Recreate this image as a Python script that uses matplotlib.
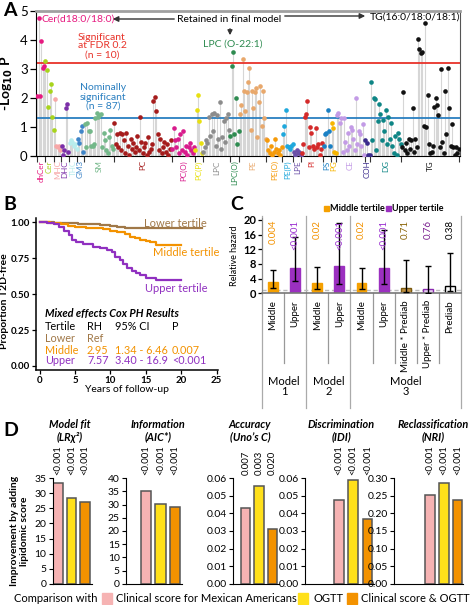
import matplotlib
matplotlib.use('Agg')
import matplotlib.pyplot as plt
import numpy as np
import matplotlib.transforms as mtransforms
from matplotlib.patches import Rectangle

plt.rcParams['font.family'] = ['Lato', 'DejaVu Sans']

# ---------------- DATA ----------------
# Panel A: lipid classes, colours and -log10 P values (in plotting order)
a_classes = ['dhCer', 'Cer', 'MHC', 'DHC', 'THC', 'GM3', 'SM', 'PC', 'PC(O)', 'PC(P)', 'LPC',
             'LPC(O)', 'PE', 'PE(O)', 'PE(P)', 'LPE', 'PI', 'PS', 'PG', 'CE', 'COH', 'DG', 'TG']
a_colors = ['#e6197f', '#a8d41c', '#f7a8a8', '#7b2fa8', '#b8ecec', '#3f85c8', '#74b88a', '#a51c1c',
            '#d81b8c', '#e8e010', '#8c8c8c', '#2e8b50', '#e8a86c', '#f59a0a', '#1fa8dc', '#6b50a8',
            '#d42a2a', '#1a80c4', '#f7b500', '#c39be6', '#3a2b8c', '#0e8585', '#111111']
a_dhcer = [2.07, 4.75, 2.07, 3.95, 3.05, 3.10]
a_cer = [3.28, 2.95, 1.70, 2.25, 2.50, 1.35, 0.90]
a_mhc = [1.95, 0.35, 0.30, 0.35, 0.20]
a_dhc = [0.35, 0.05, 0.20, 1.65, 1.78, 0.15]
a_thc = [0.45, 0.55, 0.50, 0.35, 0.40, 0.25]
a_gm3 = [0.60, 0.45, 0.85, 1.05, 0.15]
a_sm = [1.10, 0.30, 1.15, 0.85, 0.85, 0.35, 0.35, 0.40, 1.30, 1.50, 1.35, 1.40, 1.45, 0.30,
        0.80, 0.55, 0.20, 0.10, 0.65, 0.90, 0.35, 0.25]
a_pc = [1.15, 0.40, 0.75, 0.30, 0.80, 0.20, 0.75, 0.55, 0.10, 0.80, 0.35, 0.05, 0.60, 0.25,
        0.45, 0.15, 0.30, 0.70, 0.20, 1.35, 0.50, 0.10, 0.30, 0.45, 0.05, 0.65, 0.15, 0.25,
        0.40, 1.90, 2.05, 1.55, 0.75, 0.20, 0.60, 0.10, 0.30, 0.50, 0.15, 0.40, 0.05, 0.25, 0.55]
a_pco = [0.25, 0.95, 0.55, 0.30, 0.60, 0.10, 0.75, 0.20, 0.85, 0.15, 0.35, 0.05, 0.30, 0.45,
         0.20, 0.10, 0.30]
a_pcp = [0.20, 1.60, 2.10, 1.20, 0.45, 0.10]
a_lpc = [0.15, 0.30, 0.55, 0.45, 1.35, 0.70, 1.45, 0.85, 1.50, 0.35, 1.40, 0.60, 1.85, 0.25,
         0.65, 1.20, 0.50, 1.30, 1.45, 0.90]
a_lpco = [0.70, 3.10, 3.60, 0.75, 2.00, 0.40, 0.85]
a_pe = [1.45, 1.75, 3.35, 2.25, 1.55, 2.20, 2.55, 3.05, 0.90, 2.25, 1.65, 2.20, 2.35, 0.65,
        1.85, 2.40, 1.05, 2.25, 1.30, 0.60]
a_peo = [0.55, 0.20, 0.10, 0.35, 0.05, 0.15, 0.60, 0.25, 0.10, 0.20, 0.05, 0.30]
a_pep = [0.75, 1.05, 1.60, 0.35, 0.30, 0.25, 0.35, 0.40]
a_lpe = [0.15, 0.05, 0.20, 0.10, 0.15, 0.05]
a_pi = [0.10, 0.40, 1.35, 1.45, 1.90, 0.30, 1.00, 0.80, 0.35, 0.25, 0.95, 0.30, 0.40, 0.05,
        0.25, 0.45]
a_ps = [0.35, 0.75, 0.80, 1.60, 0.85, 0.35]
a_pg = [1.15, 0.95, 0.15, 0.10]
a_ce = [1.40, 1.50, 1.15, 1.30, 0.15, 1.30, 0.50, 0.20, 0.80, 0.35, 1.00, 0.90, 0.60, 0.20,
        2.00, 0.40, 0.85, 0.75, 0.35, 1.10, 0.05]
a_coh = [0.55, 0.45, 0.02, 0.03]
a_dg = [2.55, 0.55, 2.00, 1.95, 0.20, 1.20, 1.80, 1.45, 0.55, 1.25, 0.85, 1.60, 0.40, 1.35,
        0.60, 1.15, 0.35, 0.10, 0.70, 0.05, 0.80, 0.60, 0.40]
a_tg = [0.30, 2.20, 0.20, 0.45, 0.10, 0.60, 0.25, 0.55, 1.65, 0.15, 0.60, 0.30, 4.05, 3.70,
        3.55, 3.60, 1.05, 4.60, 1.00, 2.10, 0.40, 0.10, 0.15, 0.35, 1.70, 2.00, 1.75, 1.40,
        0.30, 3.00, 0.50, 0.10, 2.25, 0.75, 3.05, 1.65, 0.35, 1.10, 0.30, 0.05, 0.30, 0.10, 0.25]
a_values = [a_dhcer, a_cer, a_mhc, a_dhc, a_thc, a_gm3, a_sm, a_pc, a_pco, a_pcp, a_lpc, a_lpco,
            a_pe, a_peo, a_pep, a_lpe, a_pi, a_ps, a_pg, a_ce, a_coh, a_dg, a_tg]
a_fdr_line = 3.2
a_nominal_line = 1.3

# Panel B: Kaplan-Meier curves
b_lower_t = [0, 2.0, 4.0, 5.5, 7.0, 8.5, 10.0, 11.0, 12.0, 23.0]
b_lower_s = [1.0, 0.998, 0.995, 0.99, 0.985, 0.978, 0.972, 0.966, 0.96, 0.96]
b_mid_t = [0, 1.5, 3, 4, 5, 6.5, 8, 9, 10, 11, 12, 12.8, 13.5, 14.2, 15, 15.6, 16.5, 20.0]
b_mid_s = [1.0, 0.995, 0.99, 0.975, 0.968, 0.962, 0.958, 0.95, 0.94, 0.93, 0.92, 0.90, 0.89,
           0.88, 0.87, 0.86, 0.845, 0.845]
b_up_t = [0, 1, 2, 2.7, 3.5, 4.2, 4.6, 5.2, 6.2, 7.5, 8.5, 9.5, 10.2, 10.7, 11.3, 11.8, 12.4,
          13.0, 13.6, 14.2, 15.0, 16.5, 20.0]
b_up_s = [1.0, 0.995, 0.985, 0.965, 0.94, 0.91, 0.88, 0.865, 0.85, 0.83, 0.82, 0.81, 0.79,
          0.76, 0.74, 0.71, 0.68, 0.66, 0.65, 0.63, 0.61, 0.60, 0.60]
b_table = [['Tertile', 'RH', '95% CI', 'P'],
           ['Lower', 'Ref', '', ''],
           ['Middle', '2.95', '1.34 - 6.46', '0.007'],
           ['Upper', '7.57', '3.40 - 16.9', '<0.001']]

# Panel C: relative hazards
c_labels = ['Middle', 'Upper', 'Middle', 'Upper', 'Middle', 'Upper', 'Middle * Prediab',
            'Upper * Prediab', 'Prediab']
c_hr = [3.2, 6.9, 2.8, 7.3, 2.8, 6.8, 1.4, 1.2, 2.0]
c_lo = [1.34, 3.4, 1.2, 2.6, 1.3, 2.6, 0.3, 0.2, 0.5]
c_hi = [6.46, 15.3, 7.1, 19.2, 7.0, 17.1, 9.1, 7.3, 10.9]
c_p = ['0.004', '<0.001', '0.02', '<0.001', '0.02', '<0.001', '0.71', '0.76', '0.38']
c_models = ['Model\n1', 'Model\n2', 'Model\n3']

# Panel D: improvement by adding lipidomic score
d_titles = ['Model fit\n(LRχ²)', 'Information\n(AIC*)', 'Accuracy\n(Uno’s C)',
            'Discrimination\n(IDI)', 'Reclassification\n(NRI)']
d_vals = [[33.3, 28.6, 27.2], [35.2, 30.3, 29.0], [0.0433, 0.0555, 0.0313],
          [0.0479, 0.0593, 0.0370], [0.2516, 0.2877, 0.2373]]
d_pvals = [['<0.001'] * 3, ['<0.001'] * 3, ['0.007', '0.003', '0.020'],
           ['<0.001'] * 3, ['<0.001'] * 3]
d_ymax = [35, 40, 0.06, 0.06, 0.30]
d_step = [5, 5, 0.01, 0.01, 0.05]
d_comparisons = ['Clinical score for Mexican Americans', 'OGTT', 'Clinical score & OGTT']

# ---------------- FIGURE ----------------
W, H = 473, 605
fig = plt.figure(figsize=(W / 100, H / 100), dpi=100)


def ax_px(l, t, r, b):
    return fig.add_axes([l / W, 1 - b / H, (r - l) / W, (b - t) / H])


def ftext(x, y, s, **kw):
    fig.text(x / W, 1 - y / H, s, **kw)


# ---------- Panel A ----------
axA = ax_px(36, 11, 460, 156)
x0 = 0
bounds = [-0.5]
centers = []
for vals, col in zip(a_values, a_colors):
    n = len(vals)
    xs = np.arange(x0, x0 + n)
    axA.vlines(xs, 0, vals, color='#d6d6d6', lw=0.8, zorder=1)
    axA.scatter(xs, vals, s=11, color=col, zorder=3, linewidths=0)
    centers.append(x0 + (n - 1) / 2)
    x0 += n
    bounds.append(x0 - 0.5)
axA.set_xlim(-1, x0)
axA.set_ylim(0, 5)
axA.axhline(a_fdr_line, color='#e8332a', lw=1.3, zorder=2)
axA.axhline(a_nominal_line, color='#2a7fc0', lw=1.3, zorder=2)
axA.set_xticks(bounds)
axA.set_xticklabels([])
axA.tick_params(axis='x', length=4, width=0.8, color='#333333')
axA.set_yticks(range(6))
axA.tick_params(axis='y', labelsize=9.5, length=4, width=0.9, pad=2)
axA.spines['top'].set_color('#a0a0a0')
axA.spines['top'].set_linewidth(2)
axA.spines['right'].set_color('#555555')
transA = mtransforms.blended_transform_factory(axA.transData, axA.transAxes)
for c, name, col in zip(centers, a_classes, a_colors):
    axA.text(c, -0.03, name, rotation=90, ha='center', va='top', color=col, fontsize=5.8,
             transform=transA)
axA.set_ylabel(r'-Log$_{\mathbf{10}}$ P', fontsize=10, fontweight='bold')
axA.yaxis.set_label_coords(-(36 - 15) / 424, 0.5)

fa = lambda px, py: ((px - 36) / 424, (156 - py) / 145)
axA.text(*fa(41, 19), 'Cer(d18:0/18:0)', color='#e6197f', fontsize=7.5, va='center',
         ha='left', transform=axA.transAxes)
axA.text(*fa(229, 20), 'Retained in final model', fontsize=7.5, va='center', ha='center',
         transform=axA.transAxes)
axA.annotate('', xy=fa(110, 19), xytext=fa(177, 19), xycoords='axes fraction',
             textcoords='axes fraction',
             arrowprops=dict(arrowstyle='-|>', color='#333333', lw=1, mutation_scale=8))
axA.annotate('', xy=fa(368, 16), xytext=fa(282, 16), xycoords='axes fraction',
             textcoords='axes fraction',
             arrowprops=dict(arrowstyle='-|>', color='#333333', lw=1, mutation_scale=8))
axA.annotate('', xy=fa(230, 38), xytext=fa(230, 26), xycoords='axes fraction',
             textcoords='axes fraction',
             arrowprops=dict(arrowstyle='-|>', color='#333333', lw=1, mutation_scale=7))
axA.text(*fa(415, 17), 'TG(16:0/18:0/18:1)', fontsize=7.5, va='center', ha='center',
         transform=axA.transAxes)
axA.text(*fa(233, 44), 'LPC (O-22:1)', color='#2e8b50', fontsize=7.5, va='center',
         ha='center', transform=axA.transAxes)
axA.text(*fa(102, 46), 'Significant\nat FDR 0.2\n(n = 10)', color='#e8332a', fontsize=7.5,
         va='center', ha='center', linespacing=1.0, transform=axA.transAxes)
axA.text(*fa(103, 97), 'Nominally\nsignificant\n(n = 87)', color='#2a7fc0', fontsize=7.5,
         va='center', ha='center', linespacing=1.0, transform=axA.transAxes)

# ---------- Panel B ----------
axB = ax_px(36, 218, 218, 370)
col_low, col_mid, col_up = '#a07848', '#f39200', '#9030c0'
axB.plot(b_lower_t, b_lower_s, drawstyle='steps-post', color=col_low, lw=1.6)
axB.plot(b_mid_t, b_mid_s, drawstyle='steps-post', color=col_mid, lw=1.6)
axB.plot(b_up_t, b_up_s, drawstyle='steps-post', color=col_up, lw=1.6)
axB.set_xlim(-0.5, 25.2)
axB.set_ylim(-0.028, 1.03)
axB.set_xticks([0, 5, 10, 15, 20, 25])
axB.set_yticks([0, 0.25, 0.5, 0.75, 1.0])
axB.set_yticklabels(['0.00', '0.25', '0.50', '0.75', '1.00'])
axB.tick_params(labelsize=7, length=3, width=0.9, pad=1.5)
for lab in axB.get_xticklabels() + axB.get_yticklabels():
    lab.set_fontweight('bold')
for s in ['top', 'right']:
    axB.spines[s].set_visible(False)
axB.spines['left'].set_linewidth(1.1)
axB.spines['bottom'].set_linewidth(1.1)
axB.set_xlabel('Years of follow-up', fontsize=7.5, labelpad=0)
axB.set_ylabel('Proportion T2D-free', fontsize=7.5, fontweight='bold')
axB.yaxis.set_label_coords(-(36 - 9) / 182, 0.45)
ftext(175, 224, 'Lower tertile', color=col_low, fontsize=8, ha='center', va='center')
ftext(186, 253, 'Middle tertile', color=col_mid, fontsize=8, ha='center', va='center')
ftext(176, 288, 'Upper tertile', color=col_up, fontsize=8, ha='center', va='center')
ftext(45, 313, 'Mixed effects Cox PH Results', fontsize=7.8, fontweight='bold',
      style='italic', ha='left', va='center')
row_cols = ['black', col_low, col_mid, col_up]
col_x = [45, 87, 115, 172]
row_y = [327, 339, 350, 360]
for r, (row, rc) in enumerate(zip(b_table, row_cols)):
    for c, cell in enumerate(row):
        ftext(col_x[c], row_y[r], cell, color=rc, fontsize=7.8, ha='left', va='center')

# ---------- Panel C ----------
axC = ax_px(262, 218, 461, 293.3)
xs = np.arange(len(c_hr))
c_face = ['#f5a000', '#9b30c0', '#f5a000', '#9b30c0', '#f5a000', '#9b30c0', '#c09040',
          '#e6cff0', 'white']
c_edge = ['#f5a000', '#9b30c0', '#f5a000', '#9b30c0', '#f5a000', '#9b30c0', '#7a5a10',
          '#8a2ab0', 'black']
c_pcol = ['#f39200', '#9b30d0', '#f39200', '#9b30d0', '#f39200', '#9b30d0', '#8b6508',
          '#7a1f8f', 'black']
axC.bar(xs, c_hr, width=0.45, color=c_face, edgecolor=c_edge, lw=1, zorder=2)
yerr = [np.array(c_hr) - np.array(c_lo), np.array(c_hi) - np.array(c_hr)]
axC.errorbar(xs, c_hr, yerr=yerr, fmt='none', ecolor='black', elinewidth=1, capsize=2,
             capthick=1, zorder=3)
axC.axhline(1, color='#bbbbbb', lw=1, ls=(0, (3, 2)), zorder=1)
axC.set_xlim(-0.5, 8.5)
axC.set_ylim(0, 20.5)
axC.set_yticks([0, 4, 8, 12, 16, 20])
axC.set_xticks([])
axC.tick_params(axis='y', labelsize=8, length=3, width=0.9, pad=1)
for lab in axC.get_yticklabels():
    lab.set_fontweight('bold')
for s in ['top', 'right']:
    axC.spines[s].set_visible(False)
axC.spines['bottom'].set_color('#777777')
axC.spines['bottom'].set_linewidth(1.2)
axC.spines['left'].set_color('#888888')
axC.set_ylabel('Relative hazard', fontsize=6.5, labelpad=3)
transC = mtransforms.blended_transform_factory(axC.transData, axC.transAxes)
for x, lab, p, pc in zip(xs, c_labels, c_p, c_pcol):
    axC.text(x, -0.09, lab, rotation=90, ha='center', va='top', fontsize=7,
             transform=transC)
    axC.text(x, 0.975, p, rotation=90, ha='center', va='top', fontsize=7, color=pc,
             transform=transC)
for xb in [0.5, 2.5, 4.5, 5.5, 6.5, 7.5]:
    axC.plot([xb, xb], [0, -0.93], color='#999999', lw=0.9, transform=transC, clip_on=False)
for xb in [-0.5, 1.5, 3.5, 8.5]:
    axC.plot([xb, xb], [1.02, -1.52], color='#aaaaaa', lw=0.9, transform=transC,
             clip_on=False, zorder=0)
for xm, lab in zip([0.5, 2.5, 6.0], c_models):
    axC.text(xm, -1.24, lab, ha='center', va='center', fontsize=8, linespacing=0.95,
             transform=transC)
# legend
for sx, tx, col, lab in [(324, 330, '#f5a000', 'Middle tertile'),
                         (386, 392, '#9b30c0', 'Upper tertile')]:
    fig.patches.append(Rectangle((sx / W, 1 - 211 / H), 5 / W, 5 / H, color=col,
                                 transform=fig.transFigure))
    ftext(tx, 208, lab, fontsize=6.5, ha='left', va='center', fontweight='bold')

# ---------- Panel D ----------
d_colors = ['#f6b3b3', '#ffe01a', '#f39200']
# (spine px, first bar centre px, bar spacing px, right px)
d_layout = [(52.7, 58, 13.5, 92), (126, 146, 14.5, 182), (233, 245.8, 13.3, 279),
            (305, 339, 14.25, 374), (394, 430, 13.75, 463)]
d_title_x = [70, 158, 250, 341, 433]
for k in range(5):
    s, c0, sp, r = d_layout[k]
    ax = ax_px(s, 478.3, r, 583.7)
    ax.bar(range(3), d_vals[k], width=0.7, color=d_colors, edgecolor='#555555', lw=1.1)
    ax.set_xlim((s - c0) / sp, (r - c0) / sp)
    ax.set_ylim(0, d_ymax[k])
    ticks = np.arange(0, d_ymax[k] + d_step[k] / 2, d_step[k])
    ax.set_yticks(ticks)
    if d_ymax[k] < 1:
        ax.set_yticklabels(['%.2f' % t for t in ticks])
    ax.set_xticks([])
    ax.tick_params(axis='y', labelsize=7.5, length=3, width=0.8, pad=1.5)
    for sname in ['top', 'right']:
        ax.spines[sname].set_visible(False)
    trans = mtransforms.blended_transform_factory(ax.transData, ax.transAxes)
    for i, p in enumerate(d_pvals[k]):
        ax.text(i, 1.03, p, rotation=90, ha='center', va='bottom', fontsize=6.8,
                transform=trans)
    ftext(d_title_x[k], 431, d_titles[k], fontsize=7.8, fontweight='bold', style='italic',
          ha='center', va='center', linespacing=1.15)
    if k == 0:
        ax.set_ylabel('Improvement by adding\nlipidomic score', fontsize=7.5,
                      fontweight='bold', labelpad=4, linespacing=1.1)

# legend of panel D
ftext(14, 599, 'Comparison with', fontsize=8, ha='left', va='center')
for sq_x, tx, col, lab in [(102, 116, d_colors[0], d_comparisons[0]),
                           (298, 313, d_colors[1], d_comparisons[1]),
                           (347, 361, d_colors[2], d_comparisons[2])]:
    fig.patches.append(Rectangle((sq_x / W, 1 - 604 / H), 10 / W, 11 / H, color=col,
                                 transform=fig.transFigure))
    ftext(tx, 599, lab, fontsize=8, ha='left', va='center')

# panel letters
for lx, ly, L in [(3, 10, 'A'), (3, 205, 'B'), (230, 205, 'C'), (3, 430, 'D')]:
    ftext(lx, ly, L, fontsize=14, fontweight='bold', ha='left', va='center')

fig.savefig('out.png', dpi=100)
